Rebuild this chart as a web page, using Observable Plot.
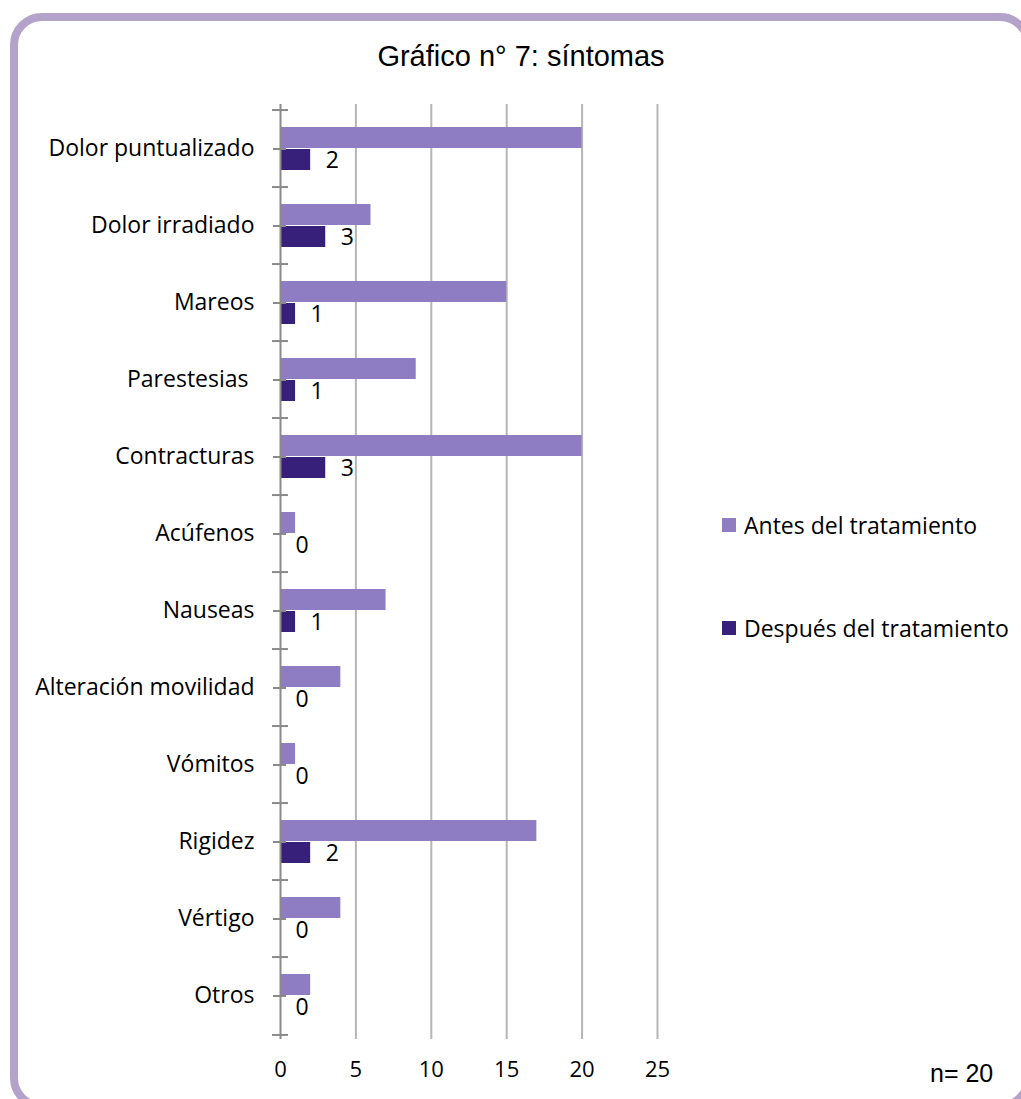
<!DOCTYPE html>
<html>
<head>
<meta charset="utf-8">
<script src="https://cdn.jsdelivr.net/npm/d3@7"></script>
<script src="https://cdn.jsdelivr.net/npm/@observablehq/plot@0.6"></script>
<style>
  html, body { margin: 0; padding: 0; background: #fff; overflow: hidden; }
  #wrap { position: relative; width: 1021px; height: 1099px; overflow: hidden; }
  #frame { position: absolute; left: 10px; top: 13px; width: 1022px; height: 1097px;
           border: 8px solid #b3a3ca; border-radius: 32px; box-sizing: border-box; }
  #chart { position: absolute; left: 0; top: 0; }
  #title { position: absolute; left: 0; width: 1042px; top: 40px; text-align: center;
           font-family: "Liberation Sans", Arial, sans-serif; font-size: 29px; color: #000; }
  .leg { position: absolute; left: 722px; font-family: "Open Sans", sans-serif; font-size: 23px; color: #000;
         display: flex; align-items: center; white-space: nowrap; line-height: 30px; }
  .leg span.sw { display: inline-block; width: 14px; height: 14px; margin-right: 8px; }
  #n { position: absolute; left: 930px; top: 1059px; font-family: "Liberation Sans", Arial, sans-serif; font-size: 25px; }
</style>
</head>
<body>
<div id="wrap">
  <div id="frame"></div>
  <div id="chart"></div>
  <div id="title">Gráfico n° 7: síntomas</div>
  <div class="leg" id="leg1" style="top:510px"><span class="sw" style="background:#8e7dc2"></span>Antes del tratamiento</div>
  <div class="leg" id="leg2" style="top:613px"><span class="sw" style="background:#37207a"></span>Después del tratamiento</div>
  <div id="n">n= 20</div>
</div>
<script>
const categories = ["Dolor puntualizado", "Dolor irradiado", "Mareos", "Parestesias ", "Contracturas", "Acúfenos", "Nauseas", "Alteración movilidad", "Vómitos", "Rigidez", "Vértigo", "Otros"];
const antes = [20, 6, 15, 9, 20, 1, 7, 4, 1, 17, 4, 2];
const despues = [2, 3, 1, 1, 3, 0, 1, 0, 0, 2, 0, 0];
const xTicks = [0, 5, 10, 15, 20, 25];
const gridTicks = [5, 10, 15, 20, 25];

const colAntes = "#8e7dc2";
const colDespues = "#37207a";

const dataAntes = categories.map((c, i) => ({cat: c, v: antes[i]}));
const dataDespues = categories.map((c, i) => ({cat: c, v: despues[i]}));

const band = (1039 - 104) / categories.length;

const chart = Plot.plot({
  width: 1021,
  height: 1099,
  marginLeft: 280,
  marginRight: 364,
  marginTop: 104,
  marginBottom: 60,
  style: {background: "transparent", fontFamily: "'Open Sans', sans-serif", fontSize: "23px", color: "#000", overflow: "visible"},
  x: {domain: [0, 25], ticks: xTicks},
  y: {domain: categories, padding: 0},
  marks: [
    Plot.ruleX(gridTicks, {stroke: "#b5b5b5", strokeWidth: 2}),
    Plot.barX(dataAntes, {x: "v", y: "cat", fill: colAntes, insetTop: 17, insetBottom: 39}),
    Plot.barX(dataDespues, {x: "v", y: "cat", fill: colDespues, insetTop: 39, insetBottom: 17}),
    Plot.ruleX([0], {stroke: "#8a8a8a", strokeWidth: 2}),
    Plot.ruleY(categories, {y: d => d, x1: 0, x2: 0, insetLeft: -8, insetRight: -8, dy: -band / 2, stroke: "#8a8a8a", strokeWidth: 2}),
    Plot.ruleY([categories[categories.length - 1]], {x1: 0, x2: 0, insetLeft: -8, insetRight: -8, dy: band / 2, stroke: "#8a8a8a", strokeWidth: 2}),
    Plot.ruleY(categories, {x1: 0, x2: 0, insetLeft: -7, insetRight: -6, stroke: "#8a8a8a", strokeWidth: 2}),
    Plot.text(dataDespues, {x: "v", y: "cat", text: d => String(d.v), textAnchor: "start", dx: 15, dy: 12, fontSize: 23, fill: "#000"}),
    Plot.axisY({tickSize: 0, tickPadding: 26, label: null, fontSize: 23}),
    Plot.axisX({ticks: xTicks, tickSize: 0, tickPadding: 22, label: null, fontSize: 22})
  ]
});
document.getElementById("chart").appendChild(chart);
</script>
</body>
</html>
